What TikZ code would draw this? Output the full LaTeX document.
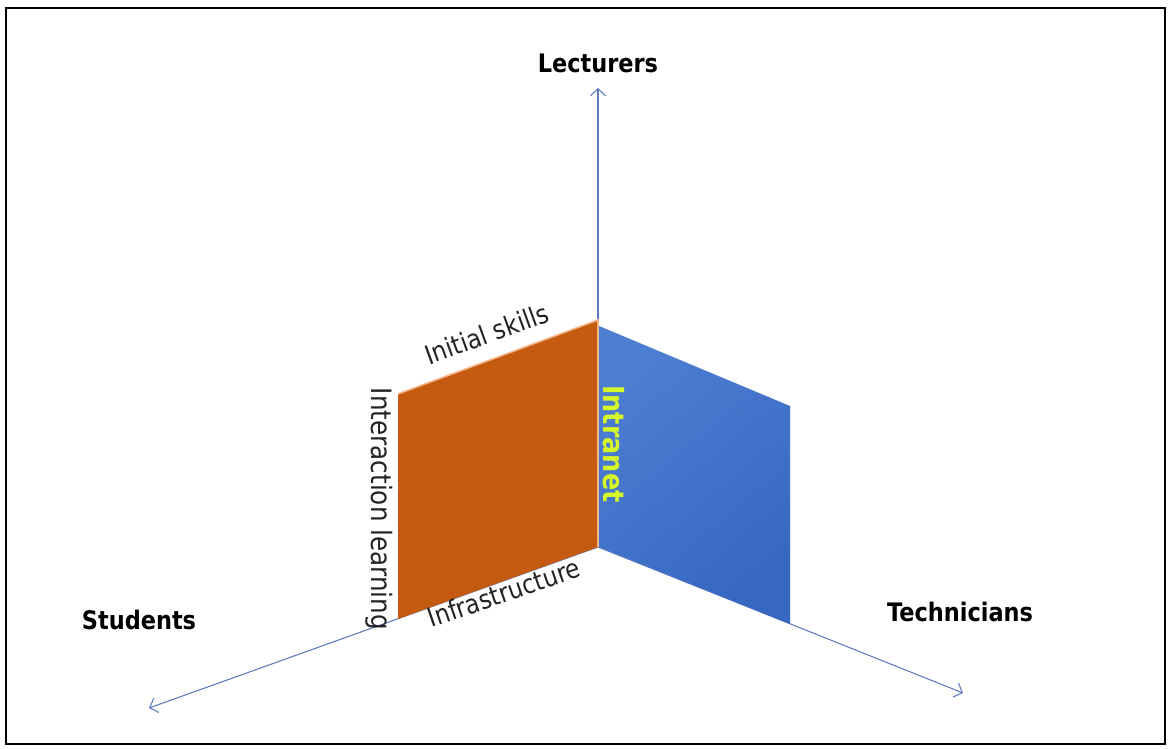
\documentclass[tikz,border=0pt]{standalone}
\usepackage{fontspec}
\setmainfont{DejaVu Sans}
\usetikzlibrary{arrows.meta}
\definecolor{axisblue}{RGB}{95,125,190}
\definecolor{planeorange}{RGB}{197,90,17}
\definecolor{planeedge}{RGB}{246,180,135}
\definecolor{blueA}{RGB}{78,126,210}
\definecolor{blueB}{RGB}{54,104,194}
\definecolor{intranetc}{RGB}{214,248,40}
\definecolor{labeltext}{RGB}{35,35,35}
\newcommand{\narrow}[1]{\scalebox{0.88}[1]{#1}}
\tikzset{
  axis/.style={draw=axisblue, line width=1.1pt, -{Straight Barb[length=7pt,width=15pt,line width=1.1pt]}},
  axlabel/.style={font=\fontsize{25.5}{29}\selectfont\bfseries, text=black, inner sep=0pt},
  edgelabel/.style={font=\fontsize{26.5}{30}\selectfont, text=labeltext, inner sep=0pt},
}
\begin{document}
\begin{tikzpicture}[x=1pt,y=-1pt]
\useasboundingbox (0,0) rectangle (1171,749);
\draw[line width=2.4pt, black] (6,8) rectangle (1165,744);

% origin and axis ends
\coordinate (O) at (598,547);
\coordinate (L) at (598,88);
\coordinate (S) at (149,708);
\coordinate (T) at (963,693);
\draw[axis] (O) -- (L);
\draw[axis] (O) -- (S);
\draw[axis] (O) -- (T);

% orange plane
\coordinate (o1) at (598,320);
\coordinate (o2) at (398,394);
\coordinate (o3) at (398,619);
\coordinate (o4) at (598,547);
\fill[planeorange] (o1) -- (o2) -- (o3) -- (o4) -- cycle;
\draw[planeedge, line width=1.6pt] (o2) -- (o1) -- (o4);

% blue plane
\coordinate (b1) at (599,326);
\coordinate (b2) at (790,406);
\coordinate (b3) at (790,624);
\coordinate (b4) at (599,547);
\shade[top color=blueA, bottom color=blueB, shading angle=40] (b1) -- (b2) -- (b3) -- (b4) -- cycle;

% labels
\node[axlabel] (lect) at (598,63) {\narrow{Lecturers}};
\node[axlabel] (stud) at (139,620) {\narrow{Students}};
\node[axlabel] (tech) at (960,612) {\narrow{Technicians}};

\node[edgelabel, anchor=base, rotate=20] (init) at (490,343) {\narrow{Initial skills}};
\node[edgelabel, anchor=base, rotate=19] (infra) at (507,602) {\narrow{Infrastructure}};
\node[edgelabel, font=\fontsize{28}{32}\selectfont, rotate=-90] (inter) at (379,509) {\narrow{Interaction learning}};
\node[font=\fontsize{29}{33}\selectfont\bfseries, text=intranetc, inner sep=0pt, rotate=-90] (intra) at (614,444) {\narrow{Intranet}};
\end{tikzpicture}
\end{document}
